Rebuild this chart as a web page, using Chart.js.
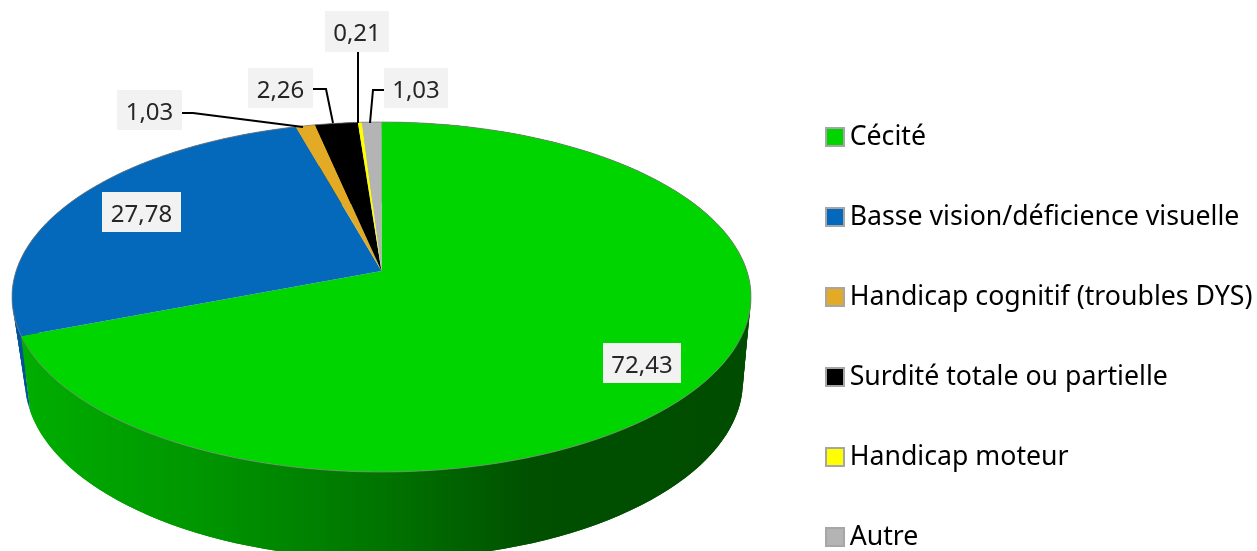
<!DOCTYPE html>
<html><head><meta charset="utf-8">
<style>html,body{margin:0;padding:0;background:#fff;overflow:hidden}canvas{display:block}</style>
<script src="https://cdn.jsdelivr.net/npm/chart.js@4/dist/chart.umd.min.js"></script>
</head><body><canvas id="c" width="1257" height="551"></canvas>
<script>
const categories = ["Cécité","Basse vision/déficience visuelle","Handicap cognitif (troubles DYS)","Surdité totale ou partielle","Handicap moteur","Autre"];
const values = [72.43,27.78,1.03,2.26,0.21,1.03];
const valueLabels = ["72,43","27,78","1,03","2,26","0,21","1,03"];
const colors = ["#00d500","#0569bb","#e3ab25","#000000","#ffff00","#b4b4b4"];
const labelBoxes = [[603,343,78,40],[102,192,79,40],[117,90,65,40],[248,68,65,40],[325,11,64,41],[384,68,64,40]];
const leaders = [null,null,[[182,113],[193,113],[303,127]],[[313,89],[326,89],[333,123]],[[358,52],[358,123]],[[384,90],[373,90],[370,123]]];
const FONT = '"Noto Sans"';

const top3d = {cx:381.5, rx:369.5, ry:175, cy:297, k:0.1486};
const bot3d = {cx:384, rx:359, ry:178, cy:381, k:0.2};
function proj(p, th){
  const u=Math.sin(th), v=Math.cos(th), s=Math.sqrt(1-p.k*p.k), d=1+p.k*v;
  return [p.cx + p.rx*s*u/d, (p.cy-p.ry*p.k) - p.ry*s*s*v/d];
}
function trace(ctx,p,a,b,first){
  const n=Math.max(2,Math.ceil(Math.abs(b-a)/(Math.PI/180)));
  for(let i=0;i<=n;i++){const q=proj(p,a+(b-a)*i/n); (first&&i===0)?ctx.moveTo(q[0],q[1]):ctx.lineTo(q[0],q[1]);}
}
const pie3d = {
  id:'pie3d',
  beforeLayout(chart){
    const lg=chart.legend;
    if(lg && !lg._tall){lg._tall=true;const o=lg.update;lg.update=function(w,h,m){return o.call(this,w,1000,m);};}
  },
  afterLayout(chart){
    const lg=chart.legend;
    lg.left=763; lg.right=1400; lg.top=70.3; lg.bottom=700;
  },
  beforeDatasetDraw(chart,args){
    const ctx=chart.ctx, arcs=args.meta.data;
    const wallG=ctx.createLinearGradient(20,0,760,0);
    [[0,'#00ae00'],[.243,'#009600'],[.514,'#007000'],[.69,'#005000'],[1,'#004c00']].forEach(s=>wallG.addColorStop(s[0],s[1]));
    ctx.save();
    for(let i=arcs.length-1;i>=0;i--){
      const a=arcs[i].startAngle+Math.PI/2,b=arcs[i].endAngle+Math.PI/2;
      const step=Math.PI/180*2;
      ctx.fillStyle = i===0?wallG:(i===1?'#00549a':colors[i]);
      for(let t=a;t<b;t+=step){
        const t1=Math.min(b,t+step*2);
        const p=[proj(top3d,t),proj(top3d,t+(t1-t)/2),proj(top3d,t1),proj(bot3d,t1),proj(bot3d,t+(t1-t)/2),proj(bot3d,t)];
        ctx.beginPath(); p.forEach((q,m)=>m?ctx.lineTo(q[0],q[1]):ctx.moveTo(q[0],q[1])); ctx.closePath();
        ctx.fill();
      }
    }
    const apex=[top3d.cx,top3d.cy-top3d.ry*top3d.k];
    arcs.forEach((arc,i)=>{
      const a=arc.startAngle+Math.PI/2,b=arc.endAngle+Math.PI/2;
      ctx.beginPath(); ctx.moveTo(apex[0],apex[1]); trace(ctx,top3d,a,b,false); ctx.closePath();
      ctx.fillStyle=colors[i]; ctx.fill();
    });
    ctx.beginPath(); trace(ctx,top3d,0,Math.PI*2,true); ctx.closePath();
    ctx.strokeStyle='rgba(130,130,130,0.75)'; ctx.lineWidth=1; ctx.stroke();
    ctx.restore();
    return false;
  },
  afterDraw(chart){
    const ctx=chart.ctx; ctx.save();
    ctx.strokeStyle='#000'; ctx.lineWidth=2;
    leaders.forEach(l=>{ if(!l)return; ctx.beginPath(); l.forEach((p,j)=>j?ctx.lineTo(p[0],p[1]):ctx.moveTo(p[0],p[1])); ctx.stroke(); });
    ctx.textAlign='center'; ctx.textBaseline='middle'; ctx.font='24px '+FONT;
    valueLabels.forEach((t,i)=>{
      const r=labelBoxes[i];
      ctx.fillStyle='#f2f2f2'; ctx.fillRect(r[0],r[1],r[2],r[3]);
      ctx.fillStyle='#262626'; ctx.fillText(t,r[0]+r[2]/2,r[1]+r[3]/2+3);
    });
    chart.legend.legendHitBoxes.forEach((h,i)=>{
      const x=825,y=127+i*80;
      ctx.fillStyle='#a6a6a6'; ctx.fillRect(x,y,20,20);
      ctx.fillStyle=colors[i]; ctx.fillRect(x+2,y+2,16,16);
    });
    ctx.restore();
  }
};
new Chart(document.getElementById('c'),{
  type:'pie',
  data:{labels:categories,datasets:[{data:values,backgroundColor:colors,borderWidth:0}]},
  options:{
    responsive:false,animation:false,events:[],
    plugins:{
      tooltip:{enabled:false},
      legend:{display:true,position:'right',align:'start',
        labels:{font:{family:FONT,size:26.7},color:'#262626',padding:53.3,boxWidth:20,boxHeight:20,
          generateLabels(chart){return chart.data.labels.map((t,i)=>({text:t,fillStyle:'rgba(0,0,0,0)',strokeStyle:'rgba(0,0,0,0)',lineWidth:0,index:i,hidden:false}));}}}
    }
  },
  plugins:[pie3d]
});
</script></body></html>
